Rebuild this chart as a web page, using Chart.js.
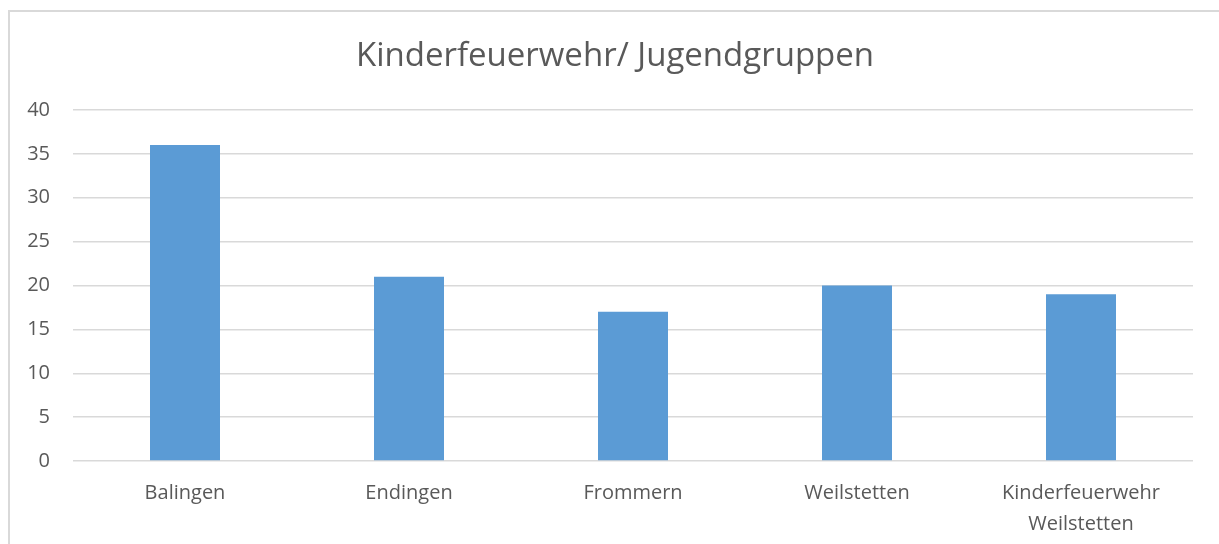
<!DOCTYPE html>
<html>
<head>
<meta charset="utf-8">
<script src="https://cdn.jsdelivr.net/npm/chart.js@4"></script>
<style>
  body { margin: 0; background: #fff; }
  #wrap { position: relative; width: 1219px; height: 544px; overflow: hidden; }
  #frame { position: absolute; left: 8px; top: 10px; width: 1300px; height: 700px;
           border-left: 2px solid #d9d9d9; border-top: 2px solid #d9d9d9; }
  canvas { position: absolute; left: 0; top: 0; }
</style>
</head>
<body>
<div id="wrap">
  <div id="frame"></div>
  <canvas id="chart"></canvas>
</div>
<script>
// data
const categories = [
    'Balingen', 'Endingen', 'Frommern', 'Weilstetten',
    ['Kinderfeuerwehr', 'Weilstetten']];
const values = [36, 21, 17, 20, 19];
const yTicks = [0, 5, 10, 15, 20, 25, 30, 35, 40];
const titleText = 'Kinderfeuerwehr/ Jugendgruppen';

const textColor = '#595959';
const gridColor = '#d9d9d9';

// title centred on the framed chart box rather than on the canvas
const frameTitle = {
    id: 'frameTitle',
    afterDraw(c) {
        const ctx = c.ctx;
        ctx.save();
        ctx.font = '33px "Open Sans"';
        ctx.fillStyle = textColor;
        ctx.textAlign = 'center';
        ctx.textBaseline = 'middle';
        ctx.fillText(titleText, 615, 57);
        ctx.restore();
    }
};

const chart = document.querySelector('#chart').getContext('2d');

new Chart(chart, {
    type: 'bar',
    data: {
        labels: categories,
        datasets: [
            {
                label: 'Anzahl',
                data: values,
                backgroundColor: '#5b9bd5',
                barPercentage: 0.3125,
                categoryPercentage: 1
            }
        ]
    },
    plugins: [frameTitle],
    options: {
        responsive: true,
        maintainAspectRatio: false,
        animation: false,
        layout: {
            padding: { left: 0, right: 26, top: 110, bottom: 0 }
        },
        plugins: {
            legend: { display: false },
            tooltip: { enabled: false },
            title: { display: false }
        },
        scales: {
            y: {
                min: 0,
                max: 40,
                afterBuildTicks: (s) => { s.ticks = yTicks.map(v => ({ value: v })); },
                afterFit: (s) => { s.width = 73; },
                border: { display: false },
                grid: { color: gridColor, lineWidth: 1.5, drawTicks: false },
                ticks: {
                    color: textColor,
                    padding: 23,
                    font: { family: 'Open Sans', size: 20 }
                }
            },
            x: {
                afterFit: (s) => { s.height = 83; },
                border: { display: false },
                grid: { display: false, drawTicks: false },
                ticks: {
                    color: textColor,
                    padding: 16.5,
                    maxRotation: 0,
                    autoSkip: false,
                    font: { family: 'Open Sans', size: 20, lineHeight: 1.55 }
                }
            }
        }
    }
})
</script>
</body>
</html>
